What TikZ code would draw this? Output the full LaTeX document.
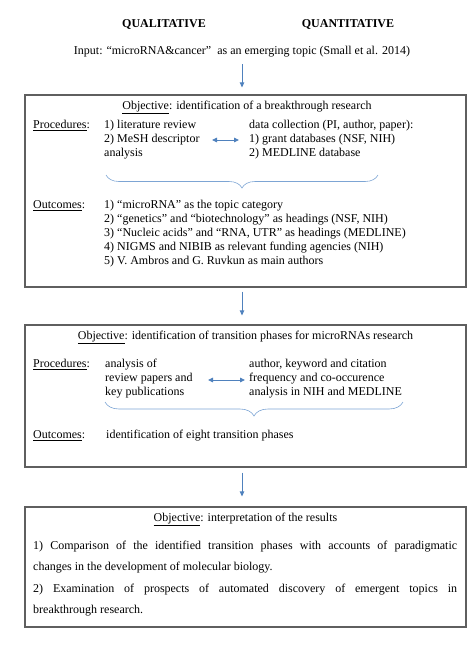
\documentclass[tikz,border=0pt]{standalone}
\usepackage{fontspec}
\setmainfont{Liberation Serif}
\usetikzlibrary{arrows.meta,decorations.pathreplacing}
\definecolor{arrblue}{RGB}{79,129,189}
\definecolor{brblue}{RGB}{125,165,212}
\definecolor{boxgray}{RGB}{95,95,95}
\begin{document}
\begin{tikzpicture}[x=1pt,y=-1pt,
  txt/.style={inner sep=0pt, anchor=mid west, font=\fontsize{12}{14}\selectfont},
  ctr/.style={inner sep=0pt, anchor=mid, font=\fontsize{12}{14}\selectfont},
  hd/.style={inner sep=0pt, anchor=mid, font=\fontsize{12}{14}\selectfont\bfseries},
  panel/.style={draw=boxgray, line width=1.2pt, minimum width=441pt, inner sep=0pt},
  arr/.style={draw=arrblue, line width=0.9pt, -{Triangle[length=5pt,width=4.5pt]}},
  darr/.style={draw=arrblue, line width=0.9pt, {Triangle[length=5pt,width=4.5pt]}-{Triangle[length=5pt,width=4.5pt]}},
  brc/.style={draw=brblue, line width=0.6pt, decorate, decoration={brace, mirror, amplitude=#1}},
]
\useasboundingbox (0,0) rectangle (474,646);

% headings and input
\node[hd] (qual) at (164,25) {QUALITATIVE};
\node[hd] (quant) at (348,25) {QUANTITATIVE};
\node[ctr] (in) at (242,52) {Input: “microRNA\&cancer”\ \ as an emerging topic (Small et al. 2014)};

% panels
\node[panel, minimum height=192pt] (b1) at (245.5,191) {};
\node[panel, minimum height=142pt] (b2) at (245.5,396) {};
\node[panel, minimum height=120pt] (b3) at (245.5,567) {};

% vertical arrows
\coordinate (ax) at (242,0);
\draw[arr, shorten <=7pt, shorten >=7pt] (in.south -| ax) -- (b1.north -| ax);
\draw[arr, shorten <=4pt, shorten >=9pt] (b1.south -| ax) -- (b2.north -| ax);
\draw[arr, shorten <=5pt, shorten >=10pt] (b2.south -| ax) -- (b3.north -| ax);

% box 1
\node[ctr] (obj1) at (247,107) {\underline{Objective}: identification of a breakthrough research};
\node[txt] (proc1) at (33,126) {\underline{Procedures}:};
\node[txt] (p1a) at (104,126) {1) literature review};
\node[txt] (p1b) at (104,140) {2) MeSH descriptor};
\node[txt] (p1c) at (104,154) {analysis};
\node[txt] (q1a) at (249,126) {data collection (PI, author, paper):};
\node[txt] (q1b) at (249,140) {1) grant databases (NSF, NIH)};
\node[txt] (q1c) at (249,154) {2) MEDLINE database};
\coordinate (d1a) at (212,140);
\coordinate (d1b) at (239,140);
\draw[darr] (d1a) -- (d1b);
\coordinate (br1a) at (106,175);
\coordinate (br1b) at (378,175);
\draw[brc=13pt] (br1a) -- (br1b);
\node[txt] (out1) at (33,206) {\underline{Outcomes}:};
\node[txt] (o1a) at (104,206) {1) “microRNA” as the topic category};
\node[txt] (o1b) at (104,220) {2) “genetics” and “biotechnology” as headings (NSF, NIH)};
\node[txt] (o1c) at (104,234) {3) “Nucleic acids” and “RNA, UTR” as headings (MEDLINE)};
\node[txt] (o1d) at (104,248) {4) NIGMS and NIBIB as relevant funding agencies (NIH)};
\node[txt] (o1e) at (104,262) {5) V. Ambros and G. Ruvkun as main authors};

% box 2
\node[ctr] (obj2) at (245.5,337) {\underline{Objective}: identification of transition phases for microRNAs research};
\node[txt] (proc2) at (33,365) {\underline{Procedures}:};
\node[txt] (p2a) at (105,365) {analysis of};
\node[txt] (p2b) at (105,379) {review papers and};
\node[txt] (p2c) at (105,393) {key publications};
\node[txt] (q2a) at (249,365) {author, keyword and citation};
\node[txt] (q2b) at (249,379) {frequency and co-occurence};
\node[txt] (q2c) at (249,393) {analysis in NIH and MEDLINE};
\coordinate (d2a) at (208,380);
\coordinate (d2b) at (245,380);
\draw[darr] (d2a) -- (d2b);
\coordinate (br2a) at (105,402);
\coordinate (br2b) at (403,402);
\draw[brc=14pt] (br2a) -- (br2b);
\node[txt] (out2) at (33,436) {\underline{Outcomes}:};
\node[txt] (o2a) at (106,436) {identification of eight transition phases};

% box 3
\node[ctr] (obj3) at (245.5,519) {\underline{Objective}: interpretation of the results};
\node[txt] (r1) at (33,547) {\makebox[424pt][s]{1) Comparison of the identified transition phases with accounts of paradigmatic}};
\node[txt] (r2) at (33,568) {changes in the development of molecular biology.};
\node[txt] (r3) at (33,590) {\makebox[424pt][s]{2) Examination of prospects of automated discovery of emergent topics in}};
\node[txt] (r4) at (33,611) {breakthrough research.};
\end{tikzpicture}
\end{document}
